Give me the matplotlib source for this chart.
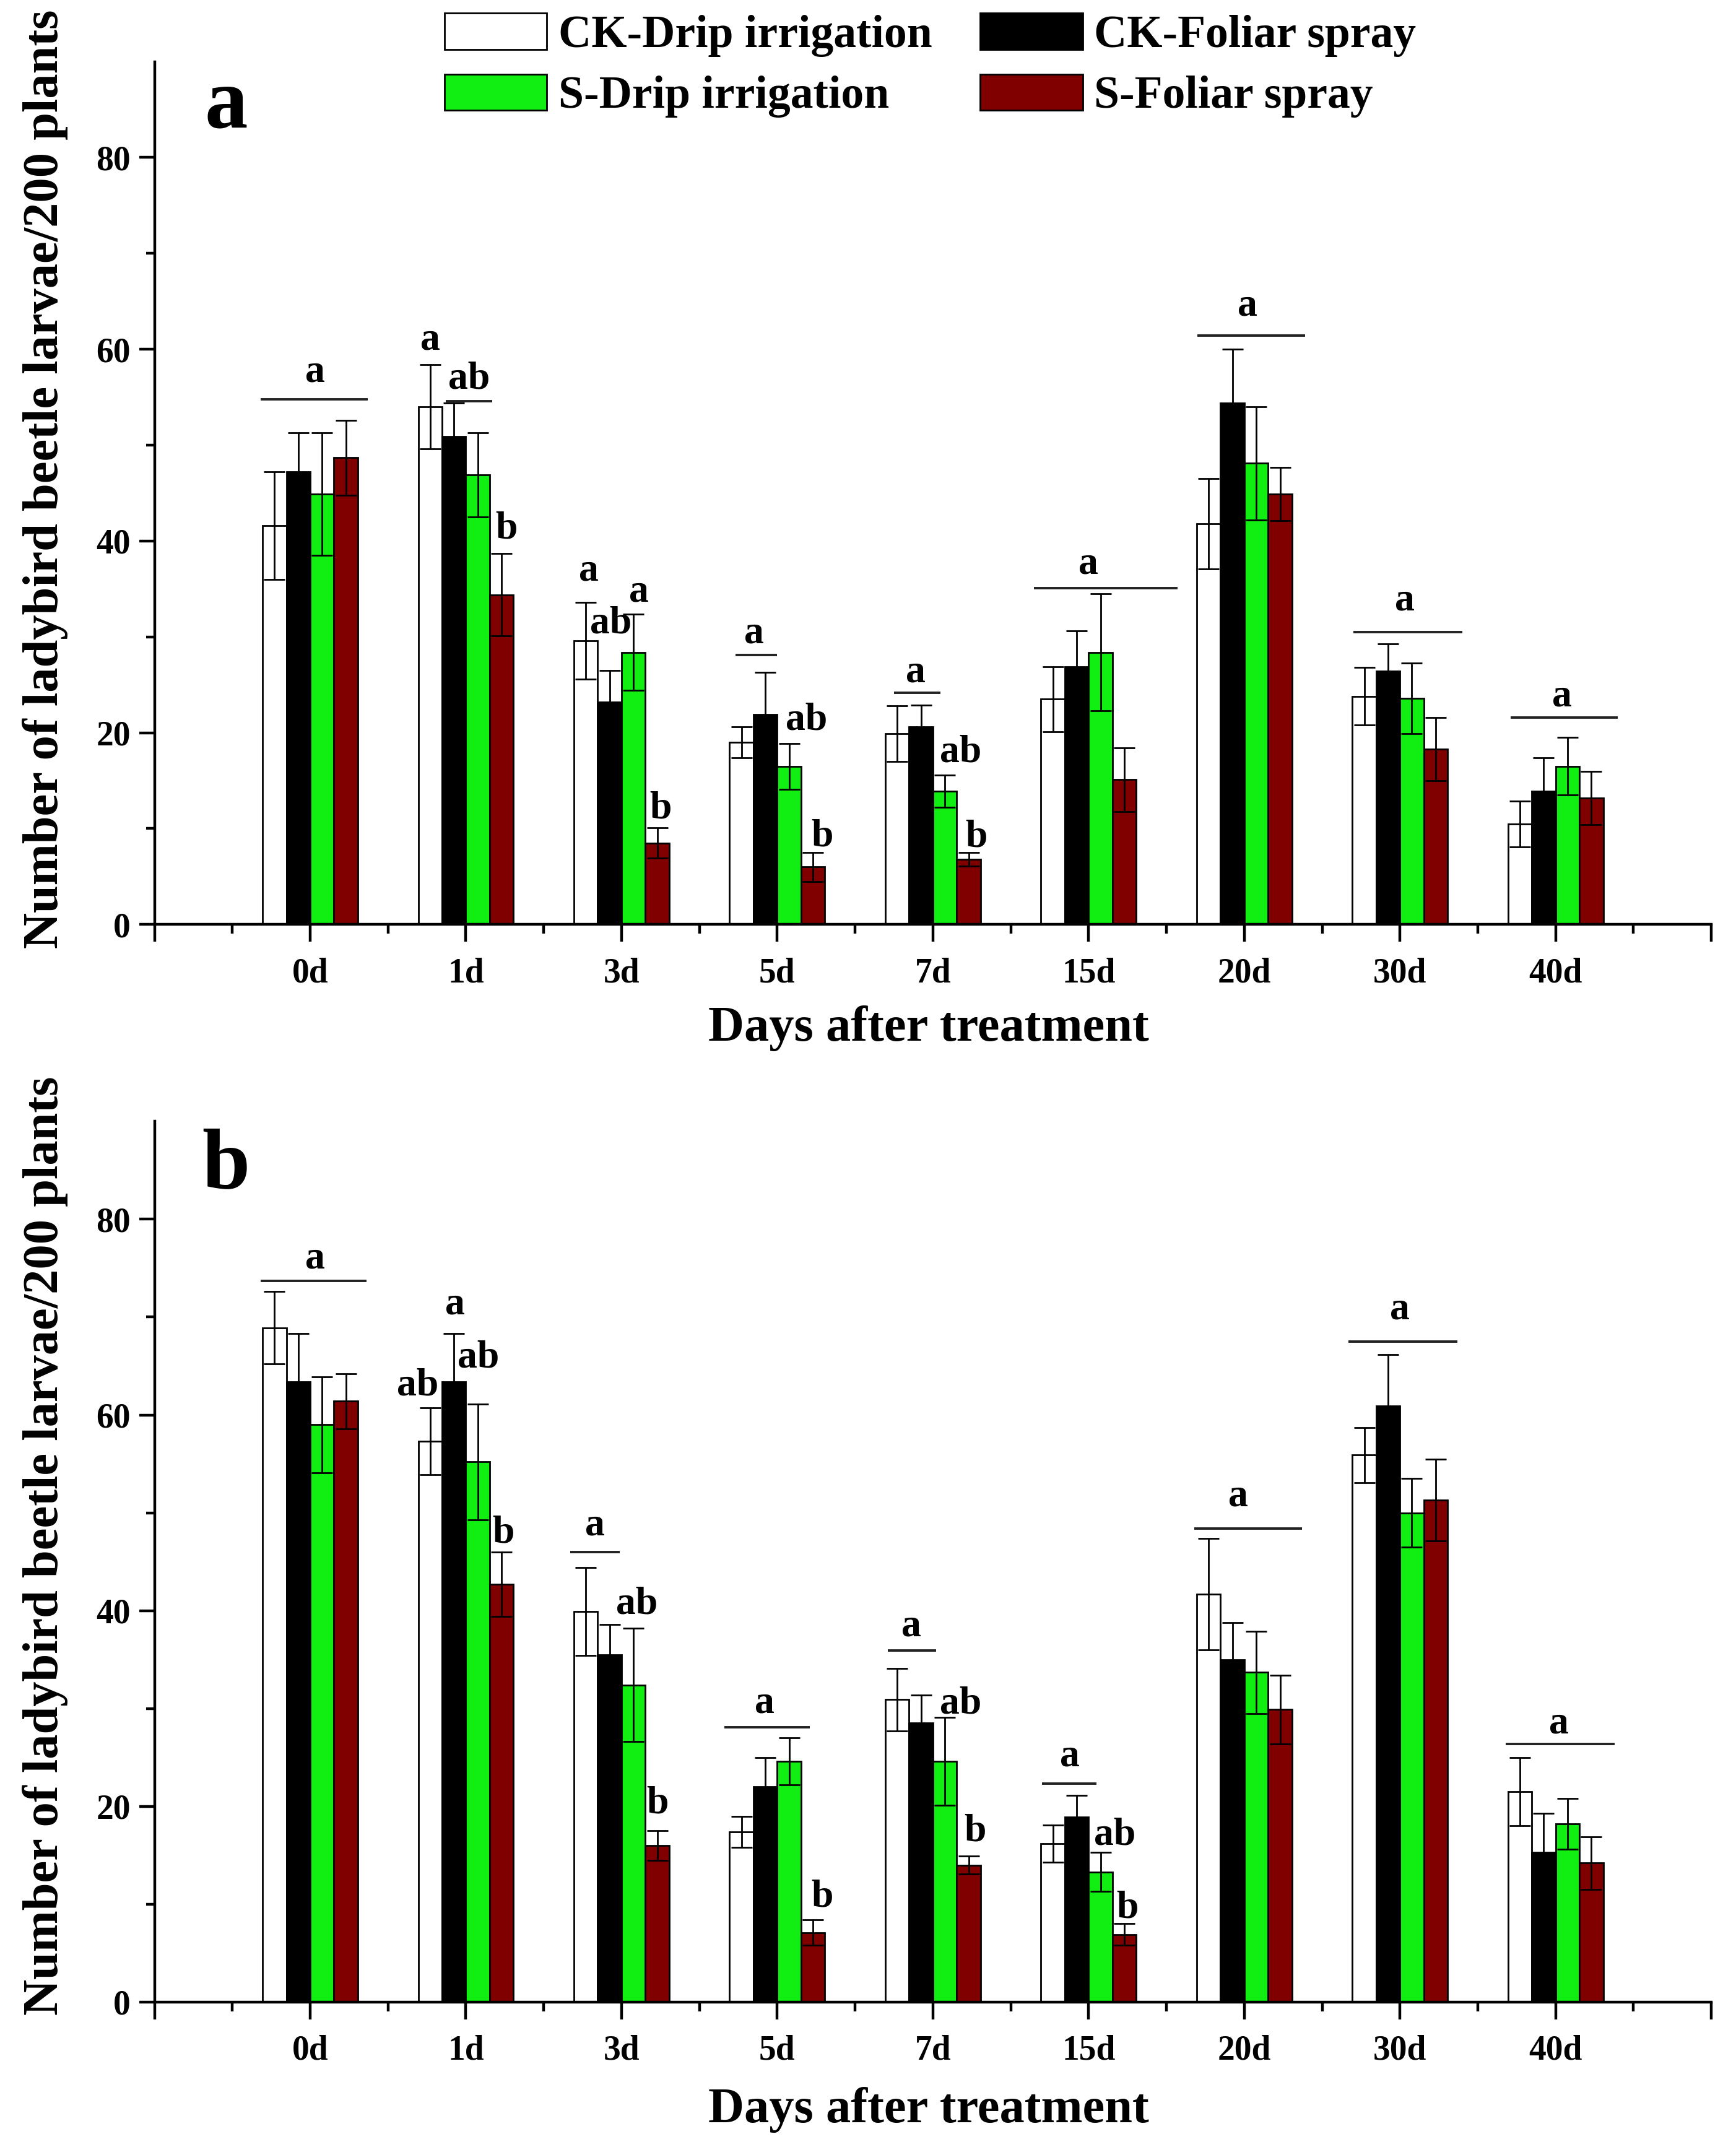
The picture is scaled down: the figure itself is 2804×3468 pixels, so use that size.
import matplotlib
matplotlib.use("Agg")
import matplotlib.pyplot as plt
import numpy as np

plt.rcParams['font.family'] = ['Liberation Serif', 'DejaVu Serif']
plt.rcParams['font.weight'] = 'bold'

days = ['0d', '1d', '3d', '5d', '7d', '15d', '20d', '30d', '40d']
series = ['CK-Drip irrigation', 'CK-Foliar spray', 'S-Drip irrigation', 'S-Foliar spray']

# ---- panel a ----
a_ck_drip = [41.6, 54.0, 29.6, 19.0, 19.9, 23.5, 41.8, 23.8, 10.5]
a_ck_drip_se = [5.6, 4.4, 4.0, 1.6, 2.9, 3.4, 4.7, 3.0, 2.4]
a_ck_foliar = [47.2, 50.9, 23.2, 21.9, 20.6, 26.9, 54.4, 26.4, 13.9]
a_ck_foliar_se = [4.1, 3.5, 3.3, 4.4, 2.3, 3.7, 5.6, 2.9, 3.5]
a_s_drip = [44.9, 46.9, 28.4, 16.5, 13.9, 28.4, 48.1, 23.6, 16.5]
a_s_drip_se = [6.4, 4.4, 4.0, 2.4, 1.7, 6.1, 5.9, 3.7, 3.0]
a_s_foliar = [48.7, 34.4, 8.5, 6.0, 6.8, 15.1, 44.9, 18.3, 13.2]
a_s_foliar_se = [3.9, 4.3, 1.6, 1.5, 0.7, 3.3, 2.8, 3.3, 2.8]

# ---- panel b ----
b_ck_drip = [68.9, 57.3, 39.9, 17.4, 30.9, 16.2, 41.7, 55.9, 21.5]
b_ck_drip_se = [3.7, 3.4, 4.5, 1.6, 3.2, 1.9, 5.7, 2.8, 3.5]
b_ck_foliar = [63.4, 63.4, 35.5, 22.0, 28.5, 18.9, 35.0, 60.9, 15.3]
b_ck_foliar_se = [4.9, 4.9, 3.1, 3.0, 2.9, 2.2, 3.8, 5.3, 4.0]
b_s_drip = [59.0, 55.2, 32.4, 24.6, 24.6, 13.3, 33.7, 50.0, 18.2]
b_s_drip_se = [4.9, 5.9, 5.8, 2.4, 4.5, 2.0, 4.2, 3.5, 2.6]
b_s_foliar = [61.4, 42.7, 16.0, 7.1, 14.0, 6.9, 29.9, 51.3, 14.2]
b_s_foliar_se = [2.8, 3.3, 1.5, 1.3, 0.9, 1.1, 3.5, 4.2, 2.7]

# significance letters: (day index, offset, baseline value, text)
a_letters = [
    (0, 0.03, 56.6, 'a'),
    (1, -0.23, 60.0, 'a'), (1, 0.02, 55.9, 'ab'), (1, 0.26, 40.3, 'b'),
    (2, -0.21, 35.9, 'a'), (2, -0.07, 30.4, 'ab'), (2, 0.11, 33.7, 'a'), (2, 0.25, 11.1, 'b'),
    (3, -0.15, 29.4, 'a'), (3, 0.19, 20.3, 'ab'), (3, 0.29, 8.2, 'b'),
    (4, -0.11, 25.3, 'a'), (4, 0.18, 17.0, 'ab'), (4, 0.28, 8.1, 'b'),
    (5, 0.0, 36.6, 'a'),
    (6, 0.02, 63.5, 'a'),
    (7, 0.03, 32.8, 'a'),
    (8, 0.04, 22.8, 'a'),
]
b_letters = [
    (0, 0.03, 75.0, 'a'),
    (1, -0.31, 62.0, 'ab'), (1, -0.07, 70.3, 'a'), (1, 0.08, 64.9, 'ab'), (1, 0.24, 47.0, 'b'),
    (2, -0.17, 47.7, 'a'), (2, 0.10, 39.7, 'ab'), (2, 0.23, 19.3, 'b'),
    (3, -0.08, 29.6, 'a'), (3, 0.29, 9.8, 'b'),
    (4, -0.14, 37.4, 'a'), (4, 0.18, 29.5, 'ab'), (4, 0.27, 16.5, 'b'),
    (5, -0.12, 24.1, 'a'), (5, 0.17, 16.1, 'ab'), (5, 0.25, 8.6, 'b'),
    (6, -0.04, 50.7, 'a'),
    (7, 0.0, 69.8, 'a'),
    (8, 0.02, 27.5, 'a'),
]
# significance lines: (day index, start offset, end offset, value)
a_lines = [(0, -0.32, 0.37, 54.8), (1, -0.13, 0.17, 54.6), (3, -0.27, 0.0, 28.1),
           (4, -0.25, 0.05, 24.2), (5, -0.35, 0.57, 35.1), (6, -0.30, 0.39, 61.4),
           (7, -0.30, 0.40, 30.5), (8, -0.29, 0.40, 21.6)]
b_lines = [(0, -0.32, 0.36, 73.7), (2, -0.33, -0.01, 46.0), (3, -0.34, 0.21, 28.1),
           (4, -0.29, 0.02, 35.9), (5, -0.30, 0.05, 22.35), (6, -0.32, 0.37, 48.4),
           (7, -0.33, 0.37, 67.5), (8, -0.32, 0.38, 26.4)]

colors = ['#FFFFFF', '#000000', '#11EE11', '#800000']

fig = plt.figure(figsize=(14.02, 17.34), dpi=200)
ax_a = fig.add_axes([0.0890, 0.5694, 0.8968, 0.4019])
ax_b = fig.add_axes([0.0890, 0.0675, 0.8968, 0.4102])

W = 0.153
x = np.arange(len(days))


def draw_panel(ax, means, ses, letters, lines, tag):
    handles = []
    for i, (m, s) in enumerate(zip(means, ses)):
        xs = x + (i - 1.5) * W
        h = ax.bar(xs, m, width=W, color=colors[i], edgecolor='black',
                   linewidth=1.0, label=series[i], zorder=2)
        ax.errorbar(xs, m, yerr=s, fmt='none', ecolor='black', elinewidth=1.0,
                    capsize=6, capthick=1.0, zorder=3)
        handles.append(h)
    for d, x0, x1, v in lines:
        ax.plot([d + x0, d + x1], [v, v], color='#222222', lw=1.4, zorder=4,
                solid_capstyle='butt')
    for d, off, v, t in letters:
        ax.text(d + off, v, t, ha='center', va='baseline', fontsize=23,
                fontweight='bold', zorder=5)
    ax.set_xlim(-1, 9)
    ax.set_ylim(0, 90)
    ax.set_xticks(np.arange(-1, 10))
    ax.set_xticklabels([''] + days + [''])
    ax.set_xticks(np.arange(-0.5, 9, 1.0), minor=True)
    ax.set_yticks([0, 20, 40, 60, 80])
    ax.set_yticks([10, 30, 50, 70], minor=True)
    for sp in ['top', 'right']:
        ax.spines[sp].set_visible(False)
    for sp in ['left', 'bottom']:
        ax.spines[sp].set_linewidth(1.6)
    ax.tick_params(axis='both', which='major', direction='out', width=1.6,
                   labelsize=20)
    ax.tick_params(axis='x', which='major', length=10, pad=9)
    ax.tick_params(axis='x', which='minor', length=5.5, width=1.6)
    ax.tick_params(axis='y', which='major', length=9, pad=5)
    ax.tick_params(axis='y', which='minor', length=5, width=1.6)
    for lab in ax.get_xticklabels() + ax.get_yticklabels():
        lab.set_fontweight('bold')
    ax.text(-0.54, 85.3, tag, ha='center', va='center', fontsize=50,
            fontweight='bold')
    return handles


ha = draw_panel(ax_a, [a_ck_drip, a_ck_foliar, a_s_drip, a_s_foliar],
                [a_ck_drip_se, a_ck_foliar_se, a_s_drip_se, a_s_foliar_se],
                a_letters, a_lines, 'a')
draw_panel(ax_b, [b_ck_drip, b_ck_foliar, b_s_drip, b_s_foliar],
           [b_ck_drip_se, b_ck_foliar_se, b_s_drip_se, b_s_foliar_se],
           b_letters, b_lines, 'b')

ylab = 'Number of ladybird beetle larvae/200 plants'
fig.text(0.026, 0.777, ylab, rotation=90, ha='center', va='center',
         fontsize=29, fontweight='bold')
fig.text(0.026, 0.280, ylab, rotation=90, ha='center', va='center',
         fontsize=29, fontweight='bold')
fig.text(0.535, 0.521, 'Days after treatment', ha='center', va='center',
         fontsize=29, fontweight='bold')
fig.text(0.535, 0.0172, 'Days after treatment', ha='center', va='center',
         fontsize=29, fontweight='bold')

order = [0, 2, 1, 3]
leg = fig.legend([ha[i] for i in order], [series[i] for i in order],
                 loc='upper left', bbox_to_anchor=(0.256, 0.994), ncol=2,
                 frameon=False, borderpad=0, borderaxespad=0,
                 handlelength=2.25, handleheight=0.85, handletextpad=0.25,
                 columnspacing=1.05, labelspacing=0.38,
                 prop={'weight': 'bold', 'size': 26.5})

fig.savefig('out.png', dpi=200)
